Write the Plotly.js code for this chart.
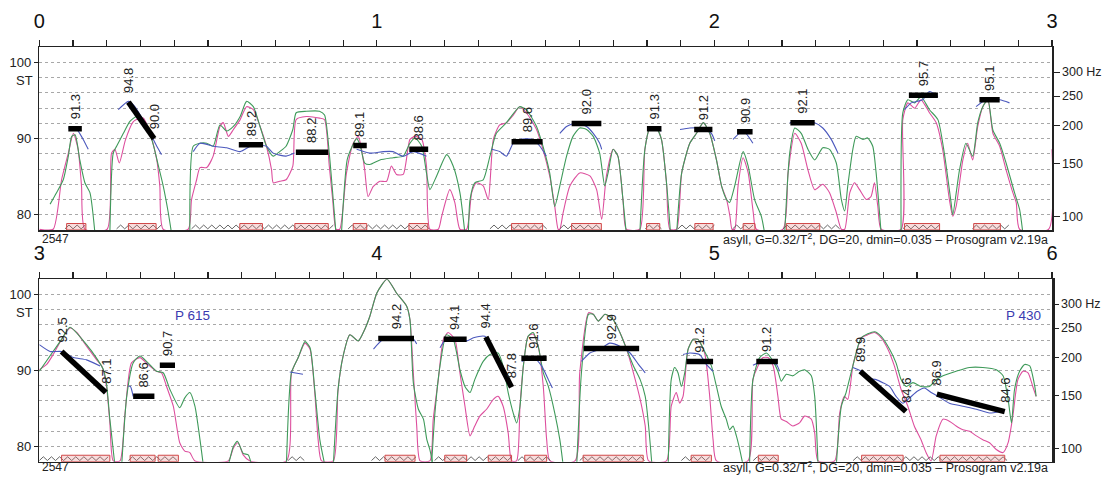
<!DOCTYPE html>
<html><head><meta charset="utf-8">
<script src="https://cdn.plot.ly/plotly-3.0.1.min.js"></script>
<style>html,body{margin:0;padding:0;background:#fff}#chart{width:1102px;height:477px}</style>
</head><body><div id="chart"></div>
<script>
// ---------- DATA ----------
// top panel (0-3 s), times in s, pitch in semitones
const topPinkT = [0.000,0.041,0.066,0.086,0.101,0.115,0.125,0.135,0.201,0.214,0.224,0.237,0.255,0.278,0.288,0.308,0.328,0.348,0.357,0.367,0.441,0.451,0.466,0.476,0.496,0.515,0.535,0.545,0.560,0.575,0.595,0.614,0.634,0.654,0.673,0.688,0.693,0.712,0.731,0.751,0.761,0.791,0.830,0.845,0.859,0.869,0.879,0.890,0.910,0.930,0.945,0.955,0.964,0.974,0.989,1.009,1.029,1.043,1.058,1.078,1.098,1.113,1.133,1.147,1.157,1.182,1.192,1.216,1.231,1.246,1.266,1.281,1.295,1.315,1.330,1.345,1.364,1.384,1.404,1.423,1.443,1.473,1.492,1.512,1.527,1.537,1.542,1.552,1.572,1.601,1.631,1.651,1.666,1.680,1.700,1.714,1.729,1.739,1.779,1.794,1.809,1.828,1.843,1.858,1.868,1.888,1.903,1.927,1.947,1.967,1.986,2.006,2.021,2.036,2.046,2.052,2.060,2.070,2.085,2.100,2.115,2.124,2.203,2.218,2.238,2.257,2.277,2.297,2.321,2.341,2.361,2.376,2.386,2.401,2.415,2.430,2.450,2.464,2.474,2.484,2.494,2.553,2.558,2.573,2.593,2.612,2.637,2.657,2.676,2.696,2.706,2.716,2.736,2.750,2.765,2.780,2.795,2.810,2.825,2.845,2.864,2.884,2.894,2.904,2.990,3.000];
const topPinkST = [78.1,78.1,84.6,88.1,90.7,88.6,83.8,78.1,78.1,88.1,88.6,86.8,89.8,92.2,92.5,92.7,90.7,87.2,83.8,78.1,78.1,82.0,84.6,86.2,86.2,87.7,91.6,92.1,90.3,91.2,92.5,94.2,93.8,91.6,89.0,85.9,84.2,84.4,84.6,86.4,92.5,92.9,92.7,92.5,86.4,82.0,78.1,78.1,85.5,89.4,90.3,88.5,85.9,82.4,83.7,84.4,84.4,86.4,85.3,85.3,89.9,90.3,89.9,86.4,78.1,78.1,79.8,83.3,81.6,78.1,78.1,82.9,84.2,83.8,82.0,89.9,91.8,92.1,93.1,94.2,93.4,91.2,88.6,85.1,81.1,78.1,78.1,80.3,83.8,85.5,85.1,83.3,79.4,85.1,88.6,87.7,82.0,78.1,78.1,88.6,91.4,91.4,89.9,84.2,78.1,78.1,85.5,89.4,90.7,92.1,90.7,87.2,83.8,82.0,79.8,78.1,78.1,83.8,87.5,85.5,80.3,78.1,78.1,85.5,90.7,89.4,85.9,83.3,84.0,82.9,80.3,78.1,78.1,82.9,84.2,83.3,82.0,82.4,84.2,81.1,78.1,78.1,92.5,94.7,94.0,95.1,93.4,92.1,88.6,82.0,79.8,81.1,87.2,89.4,87.2,91.6,94.2,95.1,90.7,89.0,85.9,82.9,81.6,78.1,78.1,88.6];

const topGreenT = [0.032,0.051,0.071,0.086,0.096,0.106,0.120,0.135,0.150,0.165,null,0.209,0.219,0.229,0.249,0.269,0.288,0.308,0.333,0.353,0.367,0.382,0.392,null,0.446,0.456,0.476,0.496,0.515,0.535,0.555,0.575,0.595,0.614,0.634,0.654,0.673,0.693,0.712,0.731,0.751,0.761,0.791,0.830,0.845,0.859,0.869,0.879,null,0.895,0.912,0.927,0.940,0.950,0.964,0.979,1.009,1.048,1.078,1.098,1.113,1.133,1.147,1.157,1.177,1.207,1.226,1.246,1.261,null,1.271,1.276,1.290,1.315,1.335,1.354,1.384,1.423,1.443,1.473,1.492,1.512,1.527,1.542,1.562,1.581,1.601,1.621,1.641,1.660,1.675,1.685,1.700,1.714,1.729,1.739,null,1.779,1.794,1.809,1.828,1.843,1.858,1.870,null,1.888,1.903,1.927,1.947,1.967,1.986,2.006,2.021,2.036,2.045,2.060,2.085,2.100,2.119,2.139,2.149,null,2.208,2.223,2.238,2.257,2.277,2.297,2.321,2.341,2.361,2.376,2.386,2.395,2.410,2.420,2.440,2.454,2.469,2.479,2.494,null,2.553,2.558,2.573,2.593,2.612,2.637,2.662,2.681,2.701,2.706,2.726,2.745,2.765,2.780,2.795,2.810,2.825,2.845,2.864,2.889,2.904,2.914];
const topGreenST = [81.4,82.9,84.6,87.7,90.3,90.5,87.2,84.2,82.9,77.5,null,77.5,88.1,89.0,90.7,92.3,92.9,92.1,89.9,86.4,83.8,80.3,77.5,null,77.5,89.0,89.4,89.4,89.0,91.8,91.0,91.6,92.9,94.9,94.2,91.6,89.0,87.7,88.3,89.0,91.2,93.4,93.6,93.6,93.1,88.1,82.9,77.5,null,77.5,87.2,89.0,90.0,89.2,86.8,86.6,87.2,87.5,87.7,89.4,90.1,89.0,85.5,83.3,85.1,87.9,86.4,82.9,77.5,null,77.5,82.0,84.2,84.6,87.7,90.7,92.1,94.2,93.8,91.6,89.0,85.5,81.1,83.8,87.7,90.3,91.4,91.2,90.3,88.1,83.8,85.5,88.6,87.7,82.0,77.5,null,77.5,88.6,91.4,91.4,89.9,84.2,77.5,null,77.5,85.5,89.4,90.7,92.1,90.7,87.2,83.8,82.0,81.6,83.8,88.3,86.4,82.0,79.8,77.5,null,77.5,88.1,91.4,90.7,88.6,87.2,88.8,88.6,86.8,82.0,80.5,83.8,88.6,90.3,89.9,90.1,89.0,85.5,77.5,null,77.5,93.4,95.1,94.7,95.5,93.8,92.5,88.1,81.6,80.0,85.9,89.4,87.7,92.1,94.2,95.1,91.1,89.4,86.8,82.9,80.7,77.5];

const topBlueT = [0.086,0.111,0.130,0.145,null,0.234,0.264,0.283,0.318,0.348,0.362,null,0.456,0.476,0.515,0.555,0.595,0.634,0.673,0.693,0.731,0.756,null,0.940,0.979,1.019,1.048,1.078,1.108,1.147,null,1.340,1.364,1.384,1.404,1.423,1.463,1.483,1.502,null,1.542,1.562,1.591,1.621,1.641,1.660,1.666,null,1.804,1.843,null,1.898,1.927,1.967,1.991,2.001,null,2.055,2.085,2.114,null,2.223,2.297,2.321,2.346,2.366,null,2.563,2.583,2.617,2.637,2.662,null,2.775,2.805,2.845,2.874];
const topBlueST = [91.4,91.2,89.9,88.6,null,93.8,94.9,94.2,91.6,89.0,87.9,null,88.3,89.4,89.0,88.8,88.3,89.2,89.0,88.1,87.7,88.1,null,88.6,88.1,88.3,88.3,87.7,88.3,87.7,null,88.6,88.3,87.7,89.4,89.9,89.9,89.0,87.7,null,90.7,91.6,92.1,91.6,90.7,89.4,88.6,null,91.4,91.0,null,91.2,91.4,91.4,90.7,89.7,null,89.9,91.0,89.4,null,92.1,92.1,91.4,89.9,88.1,null,93.8,94.7,95.1,96.2,95.5,null,94.2,95.1,95.1,94.7];

// bottom panel (3-6 s)
const botPinkT = [3.000,3.022,3.041,3.066,3.091,3.111,3.140,3.170,3.185,3.199,3.209,3.219,3.239,3.254,3.273,3.298,3.322,3.347,3.362,3.377,3.397,3.416,3.431,3.446,3.461,3.560,3.575,3.589,3.604,3.624,3.732,3.747,3.767,3.787,3.802,3.816,3.826,3.836,3.871,3.885,3.900,3.920,3.945,3.964,3.979,4.000,4.030,4.058,4.088,4.098,4.108,4.118,4.128,4.157,4.167,4.182,4.197,4.211,4.231,4.246,4.261,4.276,4.290,4.305,4.325,4.345,4.359,4.374,4.389,4.399,4.414,4.424,4.434,4.448,4.463,4.478,4.493,4.503,4.513,4.587,4.601,4.627,4.641,4.656,4.676,4.700,4.720,4.740,4.760,4.780,4.795,4.805,4.858,4.872,4.887,4.897,4.907,4.922,4.937,4.951,4.971,4.986,4.996,5.006,5.099,5.114,5.129,5.144,5.159,5.174,5.188,5.198,5.213,5.232,5.252,5.267,5.287,5.297,5.307,5.356,5.371,5.385,5.395,5.410,5.420,5.435,5.454,5.474,5.494,5.514,5.533,5.553,5.573,5.592,5.612,5.627,5.642,5.657,5.677,5.697,5.716,5.736,5.756,5.776,5.795,5.815,5.835,5.855,5.870,5.884,5.899,5.914,5.929,5.943,5.953];
const botPinkST = [90.1,90.8,92.1,94.1,95.6,95.0,93.2,91.4,90.6,87.9,83.1,78.1,78.1,84.4,91.0,91.7,90.8,89.9,89.7,87.9,85.3,80.5,79.4,79.2,78.1,78.1,79.8,80.5,78.9,78.1,78.1,89.7,91.7,93.6,92.8,87.1,80.9,78.1,78.1,87.5,91.9,94.7,93.9,95.4,97.1,100.2,102.0,100.2,98.5,96.7,89.7,82.7,78.1,78.1,83.6,88.8,94.1,95.0,94.1,89.7,85.3,81.4,82.7,84.0,84.9,86.2,86.6,85.3,81.8,78.1,78.1,85.3,90.6,94.5,94.8,93.2,87.9,80.9,78.1,78.1,89.7,97.6,97.4,96.5,97.4,96.7,95.0,92.8,89.7,86.2,82.7,78.1,78.1,85.3,87.1,85.7,86.6,92.8,94.1,94.1,92.3,86.6,80.9,78.1,78.1,88.8,90.6,91.7,91.7,90.6,86.6,83.6,83.3,82.7,83.1,84.0,83.6,81.8,78.1,78.1,84.4,86.6,86.2,90.6,92.3,94.3,94.7,95.0,94.3,92.8,90.6,87.5,85.3,82.7,80.9,79.2,78.1,81.4,83.6,83.3,82.7,82.2,82.0,81.4,80.9,80.5,79.6,79.2,80.5,84.0,88.8,89.9,89.7,87.9,86.6];

const botGreenT = [3.000,3.066,3.091,3.140,3.170,3.190,3.199,3.209,3.224,null,3.244,3.259,3.278,3.298,3.322,3.347,3.367,3.387,3.416,3.431,3.446,3.461,3.476,3.486,null,3.560,3.575,3.587,3.604,3.619,3.629,null,3.732,3.747,3.767,3.787,3.802,3.816,3.831,3.846,null,3.871,3.885,3.900,3.920,3.945,3.964,3.979,4.000,4.030,4.058,4.088,4.098,4.108,4.123,4.138,4.148,4.157,4.167,null,4.162,4.172,4.187,4.206,4.226,4.246,4.261,4.276,4.290,4.315,4.335,4.359,4.374,4.389,4.404,4.414,4.424,4.434,4.448,4.463,4.478,4.493,4.508,4.527,4.542,4.552,null,4.592,4.606,4.627,4.641,4.656,4.676,4.700,4.720,4.740,4.760,4.780,4.795,4.805,4.815,null,4.863,4.872,4.882,4.892,4.902,4.912,4.922,4.937,4.951,4.971,4.991,5.006,5.020,5.035,5.045,5.055,5.065,5.075,5.085,null,5.104,5.114,5.134,5.154,5.174,5.188,5.198,5.213,5.232,5.252,5.267,5.287,5.297,5.307,null,5.361,5.376,5.390,5.410,5.435,5.474,5.494,5.519,5.538,5.553,5.568,5.588,5.612,5.637,5.657,5.677,5.716,5.756,5.795,5.835,5.855,5.870,5.880,5.889,5.904,5.919,5.934,5.949,5.953];
const botGreenST = [89.9,94.1,95.7,93.4,91.6,90.1,88.3,83.6,77.5,null,77.5,86.6,91.0,91.9,91.0,89.9,89.7,87.5,85.1,86.4,87.1,85.3,80.9,77.5,null,77.5,80.0,80.7,79.1,78.9,77.5,null,77.5,89.7,91.7,93.8,93.0,87.5,80.9,77.5,null,77.5,87.5,91.9,94.7,93.9,95.4,97.1,100.2,102.0,100.2,98.5,96.7,88.4,84.9,83.6,80.9,79.6,77.5,null,77.5,84.4,90.6,94.7,94.1,90.1,87.9,87.1,88.8,91.2,92.1,92.3,90.6,87.1,84.4,83.1,85.3,90.6,94.5,95.0,93.2,89.7,87.9,84.4,80.9,77.5,null,77.5,89.7,97.4,97.4,96.5,97.4,96.7,95.0,92.8,90.6,88.8,86.6,82.7,77.5,null,77.5,88.8,90.4,89.7,87.9,89.7,92.8,94.1,94.1,92.5,90.6,87.9,85.3,83.6,82.2,82.7,81.4,79.6,77.5,null,77.5,88.8,91.7,92.3,91.2,89.9,88.6,89.5,89.3,89.9,90.1,89.3,86.6,77.5,null,77.5,85.3,87.1,90.6,94.3,95.1,94.5,92.8,91.0,88.8,87.9,88.4,87.9,87.9,88.8,89.3,89.9,90.4,90.4,90.1,89.3,86.2,83.1,87.5,89.9,90.8,90.6,87.9,86.6];

const botBlueT = [3.000,3.032,3.066,3.101,3.140,3.180,null,3.264,3.270,3.278,null,3.742,3.781,null,3.990,4.019,4.058,4.108,4.118,null,4.187,4.206,4.266,4.286,4.320,4.345,null,4.429,4.463,4.488,4.508,4.520,null,4.606,4.631,4.661,4.690,4.720,4.750,4.775,4.795,null,4.907,4.927,4.956,4.976,4.996,null,5.114,5.144,5.183,5.193,null,5.410,5.435,5.454,5.479,5.499,5.519,5.538,5.558,5.578,5.602,5.622,5.642,5.662,5.696,5.736,5.776,5.815,5.845];
const botBlueST = [93.4,92.5,92.5,91.7,91.4,90.6,null,87.9,87.9,86.6,null,89.8,89.5,null,92.8,94.1,94.1,94.1,93.5,null,93.0,94.1,93.9,94.3,94.5,92.8,null,91.2,91.7,90.6,88.8,87.7,null,91.2,92.3,92.8,93.6,93.2,92.3,90.8,89.7,null,92.1,92.3,92.1,90.8,89.9,null,90.7,91.2,90.8,89.9,null,90.4,89.9,89.0,88.8,88.4,87.9,86.6,85.7,86.4,87.3,87.7,87.1,86.6,85.7,85.3,84.9,84.4,84.6];

// stylized nuclei: start time, end time, start ST, end ST
const topSegStart = [0.086,0.264,0.591,0.760,0.930,1.096,1.399,1.577,1.800,1.940,2.067,2.225,2.576,2.785];
const topSegEnd   = [0.126,0.340,0.663,0.856,0.970,1.152,1.491,1.665,1.843,1.994,2.113,2.297,2.662,2.845];
const topSegST0   = [91.3,94.8,89.2,88.2,89.1,88.6,89.6,92.0,91.3,91.2,90.9,92.1,95.7,95.1];
const topSegST1   = [91.3,90.0,89.2,88.2,89.1,88.6,89.6,92.0,91.3,91.2,90.9,92.1,95.7,95.1];
const botSegStart = [3.066,3.278,3.357,4.004,4.198,4.323,4.428,4.613,4.917,5.124,5.432,5.659];
const botSegEnd   = [3.197,3.341,3.402,4.110,4.266,4.399,4.503,4.777,4.996,5.188,5.567,5.860];
const botSegST0   = [92.5,86.6,90.7,94.2,94.1,94.4,91.6,92.9,91.2,91.2,89.9,86.9];
const botSegST1   = [87.1,86.6,90.7,94.2,94.1,87.8,91.6,92.9,91.2,91.2,84.6,84.6];

// syllables (zigzag) and nuclei (red boxes)
const topSylStart = [0.076,0.229,0.451,0.915,1.335,1.542,1.795,1.892,2.054,2.203,2.558,2.764];
const topSylEnd   = [0.144,0.362,0.881,1.157,1.512,1.665,1.845,2.001,2.119,2.371,2.667,2.879];
const topNucStart = [0.081,0.264,0.594,0.757,0.930,1.095,1.399,1.577,1.799,1.942,2.085,2.213,2.563,2.768];
const topNucEnd   = [0.138,0.346,0.661,0.856,0.970,1.151,1.491,1.665,1.838,1.996,2.120,2.312,2.667,2.847];
const botSylStart = [3.000,3.264,3.737,3.984,4.171,4.418,4.601,4.902,5.115,5.411];
const botSylEnd   = [3.209,3.412,3.792,4.118,4.399,4.522,4.799,4.996,5.194,5.875];
const botNucStart = [3.066,3.269,3.352,4.024,4.201,4.330,4.438,4.611,4.931,5.130,5.436,5.668];
const botNucEnd   = [3.209,3.343,3.412,4.113,4.266,4.399,4.503,4.789,4.991,5.189,5.559,5.860];

const hzTicks = [100,150,200,250,300];
const hzLabels = ['100','150','200','250','300 Hz'];
const topTimeLabels = ['0','1','2','3'];
const botTimeLabels = ['3','4','5','6'];

// ---------- DRAWING ----------
const FONT = 'Liberation Sans, Arial, sans-serif';
const PINK = '#dd4f9e', GREEN = '#3f9a5a', BLUE = '#4b58bd';
const W = 1102, H = 477;
const xDom = [39.3/W, 1052/W];
const topDom = [1-230/H, 1-47.3/H];
const botDom = [1-461.7/H, 1-279.3/H];

function line(x, y, color, xa, ya, width, shape) {
  return {type:'scatter', mode:'lines', x:x, y:y, xaxis:xa, yaxis:ya, connectgaps:false,
    hoverinfo:'skip', showlegend:false,
    line:{color:color, width:width||1.1, shape:shape||'spline', smoothing:0.6}};
}
function segTrace(s,e,a,b,xa,ya){
  const x=[],y=[];
  for(let i=0;i<s.length;i++){x.push(s[i],e[i],null);y.push(a[i],b[i],null);}
  return line(x,y,'#000',xa,ya,5.5,'linear');
}
function zigzag(s,e,xa,ya){
  const x=[],y=[]; const step=0.012;
  for(let i=0;i<s.length;i++){
    let k=0;
    for(let t=s[i]; t<=e[i]+1e-9; t+=step, k++){x.push(t); y.push(k%2===0?78.15:78.65);}
    x.push(null); y.push(null);
  }
  return line(x,y,'#555',xa,ya,0.9,'linear');
}
function segLabels(s,e,a,b,xa,ya){
  const out=[];
  for(let i=0;i<s.length;i++){
    const base={xref:xa,yref:ya,showarrow:false,textangle:-90,yanchor:'bottom',xanchor:'center',
      yshift:7,font:{family:FONT,size:13,color:'#222'}};
    if(Math.abs(a[i]-b[i])<0.05){
      out.push(Object.assign({},base,{x:(s[i]+e[i])/2,y:a[i],text:a[i].toFixed(1)}));
    } else {
      out.push(Object.assign({},base,{x:s[i],y:a[i],text:a[i].toFixed(1)}));
      out.push(Object.assign({},base,{x:e[i],y:b[i],text:b[i].toFixed(1)}));
    }
  }
  return out;
}
function nucShapes(s,e,xa,ya){
  return s.map((v,i)=>({type:'rect',xref:xa,yref:ya,x0:v,x1:e[i],y0:78.0,y1:78.85,
    line:{color:'#d04848',width:1},fillcolor:'rgba(230,120,120,0.25)',layer:'above'}));
}

const traces = [
  line(topPinkT, topPinkST, PINK, 'x','y'),
  line(topGreenT, topGreenST, GREEN, 'x','y'),
  line(topBlueT, topBlueST, BLUE, 'x','y'),
  zigzag(topSylStart, topSylEnd, 'x','y'),
  segTrace(topSegStart, topSegEnd, topSegST0, topSegST1, 'x','y'),
  line(botPinkT, botPinkST, PINK, 'x2','y3'),
  line(botGreenT, botGreenST, GREEN, 'x2','y3'),
  line(botBlueT, botBlueST, BLUE, 'x2','y3'),
  zigzag(botSylStart, botSylEnd, 'x2','y3'),
  segTrace(botSegStart, botSegEnd, botSegST0, botSegST1, 'x2','y3'),
  {type:'scatter',x:[0],y:[90],xaxis:'x',yaxis:'y2',mode:'markers',marker:{opacity:0},hoverinfo:'skip',showlegend:false},
  {type:'scatter',x:[3],y:[90],xaxis:'x2',yaxis:'y4',mode:'markers',marker:{opacity:0},hoverinfo:'skip',showlegend:false}
];

const hzVals = hzTicks.map(h => 12*Math.log2(h));
function xAxis(range, labels, anchor){
  return {domain:xDom, anchor:anchor, side:'top', range:range, tickmode:'array',
    tickvals:labels.map(Number), ticktext:labels, ticks:'outside', ticklen:6, tickwidth:1.2, tickcolor:'#222',
    ticklabelstandoff:4,
    tickfont:{family:FONT,size:20,color:'#111'}, showline:true, mirror:true, linecolor:'#222', linewidth:1.5,
    showgrid:false, zeroline:false, fixedrange:true,
    minor:{tickmode:'linear', tick0:range[0], dtick:0.1, ticks:'outside', ticklen:6, tickwidth:1.2, tickcolor:'#222', showgrid:false}};
}
function yAxis(dom, anchor){
  return {domain:dom, anchor:anchor, range:[78,102], tickmode:'array', tickvals:[80,90,100],
    ticks:'outside', ticklen:4, tickcolor:'#222', tickfont:{family:FONT,size:13,color:'#222'},
    showline:true, linecolor:'#222', linewidth:1.5, zeroline:false, fixedrange:true,
    showgrid:true, griddash:'dot', gridcolor:'#a8a8a8', gridwidth:1,
    minor:{tickmode:'linear', tick0:80, dtick:2, showgrid:true, griddash:'dot', gridcolor:'#a8a8a8', gridwidth:1, ticks:''}};
}
function hzAxis(over, anchor, lw, tl){
  return {overlaying:over, anchor:anchor, side:'right', range:[78,102], tickmode:'array',
    tickvals:hzVals, ticktext:hzLabels, ticks:'outside', ticklen:tl, tickcolor:'#222',
    tickfont:{family:FONT,size:12.5,color:'#222'}, showline:true, linecolor:'#222', linewidth:lw,
    showgrid:false, zeroline:false, fixedrange:true};
}

const annotations = [].concat(
  segLabels(topSegStart, topSegEnd, topSegST0, topSegST1, 'x','y'),
  segLabels(botSegStart, botSegEnd, botSegST0, botSegST1, 'x2','y3'),
  [
    {xref:'paper',yref:'y',x:39.3/W,y:97.6,text:'ST',showarrow:false,xanchor:'right',xshift:-4,font:{family:FONT,size:13,color:'#222'}},
    {xref:'paper',yref:'y3',x:39.3/W,y:97.6,text:'ST',showarrow:false,xanchor:'right',xshift:-4,font:{family:FONT,size:13,color:'#222'}},
    {xref:'paper',yref:'paper',x:40/W,y:1-238.5/H,text:'2547',showarrow:false,xanchor:'left',yanchor:'middle',font:{family:FONT,size:12,color:'#222'}},
    {xref:'paper',yref:'paper',x:40/W,y:1-467/H,text:'2547',showarrow:false,xanchor:'left',yanchor:'middle',font:{family:FONT,size:12,color:'#222'}},
    {xref:'paper',yref:'paper',x:1050/W,y:1-238.5/H,text:'asyll, G=0.32/T<sup>2</sup>, DG=20, dmin=0.035 – Prosogram v2.19a',showarrow:false,xanchor:'right',yanchor:'middle',font:{family:FONT,size:12.5,color:'#222'}},
    {xref:'paper',yref:'paper',x:1050/W,y:1-467/H,text:'asyll, G=0.32/T<sup>2</sup>, DG=20, dmin=0.035 – Prosogram v2.19a',showarrow:false,xanchor:'right',yanchor:'middle',font:{family:FONT,size:12.5,color:'#222'}},
    {xref:'paper',yref:'paper',x:192/W,y:1-315/H,text:'P 615',showarrow:false,xanchor:'center',yanchor:'middle',font:{family:FONT,size:13.5,color:'#3a3ab0'}},
    {xref:'paper',yref:'paper',x:1023/W,y:1-315/H,text:'P 430',showarrow:false,xanchor:'center',yanchor:'middle',font:{family:FONT,size:13.5,color:'#3a3ab0'}}
  ]
);

const layout = {
  width:W, height:H, margin:{l:0,r:0,t:0,b:0}, paper_bgcolor:'#fff', plot_bgcolor:'#fff',
  showlegend:false, font:{family:FONT},
  xaxis: xAxis([0,3], topTimeLabels, 'y'),
  yaxis: yAxis(topDom, 'x'),
  yaxis2: hzAxis('y','x',1.5,6),
  xaxis2: xAxis([3,6], botTimeLabels, 'y3'),
  yaxis3: yAxis(botDom, 'x2'),
  yaxis4: hzAxis('y3','x2',2.5,4),
  shapes: [].concat(nucShapes(topNucStart, topNucEnd,'x','y'), nucShapes(botNucStart, botNucEnd,'x2','y3')),
  annotations: annotations
};

Plotly.newPlot('chart', traces, layout, {staticPlot:true, displayModeBar:false});
</script></body></html>
